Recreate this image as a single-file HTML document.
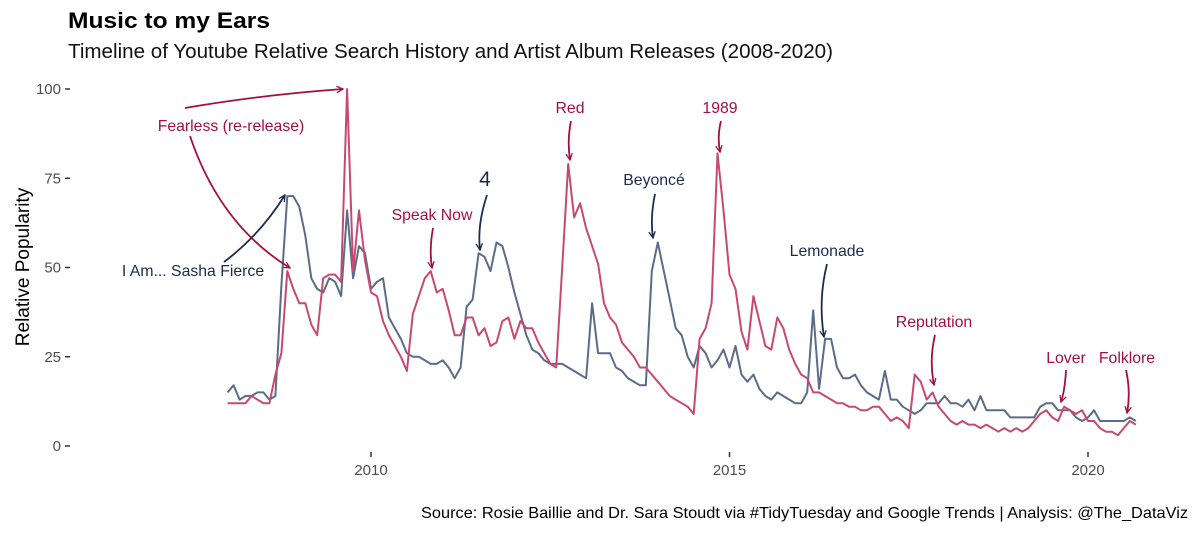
<!DOCTYPE html>
<html><head><meta charset="utf-8"><style>
html,body{margin:0;padding:0;background:#fff;}
svg{display:block;font-family:"Liberation Sans",Arial,sans-serif;}
</style></head><body>
<svg id="chart" width="1200" height="533" viewBox="0 0 1200 533" xmlns="http://www.w3.org/2000/svg">
<defs>
<marker id="ap" viewBox="0 0 10 10" refX="9" refY="5" markerWidth="8" markerHeight="8" orient="auto-start-reverse" markerUnits="userSpaceOnUse"><path d="M1,1 L9,5 L1,9" fill="none" stroke="#a50f3f" stroke-width="1.6"/></marker>
<marker id="ab" viewBox="0 0 10 10" refX="9" refY="5" markerWidth="8" markerHeight="8" orient="auto-start-reverse" markerUnits="userSpaceOnUse"><path d="M1,1 L9,5 L1,9" fill="none" stroke="#1a2b50" stroke-width="1.6"/></marker>
</defs>
<text x="68" y="28" font-size="22" font-weight="bold" fill="#000" textLength="202" lengthAdjust="spacingAndGlyphs">Music to my Ears</text>
<text x="68" y="58" font-size="20.5" fill="#111" textLength="765" lengthAdjust="spacingAndGlyphs">Timeline of Youtube Relative Search History and Artist Album Releases (2008-2020)</text>
<text transform="translate(29,267) rotate(-90)" text-anchor="middle" font-size="19" fill="#000">Relative Popularity</text>
<text x="1188" y="518" text-anchor="end" font-size="16" fill="#000" textLength="767" lengthAdjust="spacingAndGlyphs">Source: Rosie Baillie and Dr. Sara Stoudt via #TidyTuesday and Google Trends | Analysis: @The_DataViz</text>
<g id="axes"></g>
<g id="series"></g>
<g id="annotations" font-size="15.8">
<path d="M185,108 Q260,95 343,89" fill="none" stroke="#a50f3f" stroke-width="1.8" marker-end="url(#ap)"/>
<path d="M190,136 Q220,225 290,268" fill="none" stroke="#a50f3f" stroke-width="1.8" marker-end="url(#ap)"/>
<text x="231" y="131" text-anchor="middle" fill="#a50f3f">Fearless (re-release)</text>
<path d="M224,262 Q260,235 285,195" fill="none" stroke="#1a2b50" stroke-width="1.8" marker-end="url(#ab)"/>
<text x="193" y="276" text-anchor="middle" fill="#1a2b50">I Am... Sasha Fierce</text>
<text x="432" y="220" text-anchor="middle" fill="#a50f3f">Speak Now</text>
<path d="M433,228 Q429,250 432,268" fill="none" stroke="#a50f3f" stroke-width="1.8" marker-end="url(#ap)"/>
<text x="485" y="186" text-anchor="middle" font-size="21" fill="#1a2b50">4</text>
<path d="M487,195 Q477,225 480,250" fill="none" stroke="#1a2b50" stroke-width="1.8" marker-end="url(#ab)"/>
<text x="570" y="113" text-anchor="middle" fill="#a50f3f">Red</text>
<path d="M571,121 Q567,140 570,160" fill="none" stroke="#a50f3f" stroke-width="1.8" marker-end="url(#ap)"/>
<text x="654" y="185" text-anchor="middle" fill="#1a2b50">Beyoncé</text>
<path d="M655,194 Q650,218 653,238" fill="none" stroke="#1a2b50" stroke-width="1.8" marker-end="url(#ab)"/>
<text x="720" y="113" text-anchor="middle" fill="#a50f3f">1989</text>
<path d="M721,121 Q717,136 720,152" fill="none" stroke="#a50f3f" stroke-width="1.8" marker-end="url(#ap)"/>
<text x="827" y="256" text-anchor="middle" fill="#1a2b50">Lemonade</text>
<path d="M827,264 Q818,300 824,337" fill="none" stroke="#1a2b50" stroke-width="1.8" marker-end="url(#ab)"/>
<text x="934" y="327" text-anchor="middle" fill="#a50f3f">Reputation</text>
<path d="M935,335 Q929,360 934,385" fill="none" stroke="#a50f3f" stroke-width="1.8" marker-end="url(#ap)"/>
<text x="1066" y="363" text-anchor="middle" fill="#a50f3f">Lover</text>
<path d="M1066,370 Q1065,390 1061,402" fill="none" stroke="#a50f3f" stroke-width="1.8" marker-end="url(#ap)"/>
<text x="1127" y="363" text-anchor="middle" fill="#a50f3f">Folklore</text>
<path d="M1126,370 Q1131,392 1127,413" fill="none" stroke="#a50f3f" stroke-width="1.8" marker-end="url(#ap)"/>
</g>
</svg>
<script>
const startYear = 2008;
const yTicks = [0, 25, 50, 75, 100];
const xTicks = [2010, 2015, 2020];
const taylorSwift = [12,12,12,12,14,13,12,12,20,26,49,44,40,40,34,31,47,48,48,46,100,49,66,52,43,42,35,31,28,25,21,37,42,47,49,43,44,38,31,31,36,36,31,33,28,29,35,36,30,35,33,33,29,26,23,22,50,79,64,68,61,56,51,40,36,34,29,27,25,22,22,20,18,16,14,13,12,11,9,30,33,40,82,66,48,44,32,27,42,35,28,27,36,33,27,23,20,19,15,15,14,13,12,12,11,11,10,10,11,11,9,7,8,7,5,20,18,13,15,11,9,7,6,7,6,6,5,6,5,4,5,4,5,4,5,7,9,10,8,7,11,10,9,10,7,7,5,4,4,3,5,7,6];
const beyonce = [15,17,13,14,14,15,15,13,14,45,70,70,67,59,47,44,43,47,46,42,66,47,56,54,44,46,47,36,33,30,26,25,25,24,23,23,24,22,19,22,39,41,54,53,49,57,56,50,43,37,31,27,26,24,23,23,23,22,21,20,19,40,26,26,26,22,21,19,18,17,17,49,57,49,41,33,31,25,22,28,26,22,24,27,22,28,20,18,20,16,14,13,15,14,13,12,12,15,38,16,30,30,22,19,19,20,17,15,14,13,21,13,13,11,10,9,10,12,12,12,14,12,12,11,13,10,14,10,10,10,10,8,8,8,8,8,11,12,12,10,10,10,8,7,8,10,7,7,7,7,7,8,7];
const NS = "http://www.w3.org/2000/svg";
const xScale = (yr) => 371 + (yr - 2010) * 71.7;
const xMonth = (i) => xScale(startYear + i / 12);
const yScale = (v) => 446 - v * 3.57;
const axes = document.getElementById('axes');
const series = document.getElementById('series');
function mk(tag, attrs, parent) {
  const el = document.createElementNS(NS, tag);
  for (const k in attrs) el.setAttribute(k, attrs[k]);
  parent.appendChild(el);
  return el;
}
yTicks.forEach(v => {
  const t = mk('text', {x: 61, y: yScale(v) + 5, 'text-anchor': 'end', 'font-size': 15, fill: '#4d4d4d'}, axes);
  
  
  t.textContent = v;
  const l = mk('line', {x1: 65, x2: 70, y1: yScale(v), y2: yScale(v), stroke: '#333', 'stroke-width': 1.5}, axes);
  
  
});
xTicks.forEach(v => {
  const l = mk('line', {x1: xScale(v), x2: xScale(v), y1: 452, y2: 457, stroke: '#333', 'stroke-width': 1.5}, axes);
  
  
  const t = mk('text', {x: xScale(v), y: 475, 'text-anchor': 'middle', 'font-size': 15, fill: '#4d4d4d'}, axes);
  
  
  t.textContent = v;
});
function line(data, color, name) {
  const d = data.map((v, i) => (i ? 'L' : 'M') + xMonth(i).toFixed(1) + ',' + yScale(v).toFixed(1)).join(' ');
  const p = mk('path', {d: d, fill: 'none', stroke: color, 'stroke-width': 2, 'stroke-linejoin': 'round'}, series);
  
  
}
line(beyonce, '#5b6c88', 'beyonce-line');
line(taylorSwift, '#c8496f', 'taylor-swift-line');
</script>
</body></html>
